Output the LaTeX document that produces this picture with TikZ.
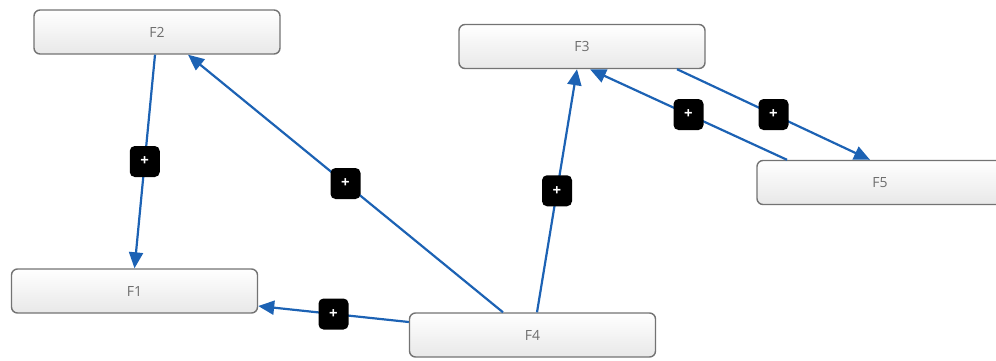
\documentclass[tikz,border=0pt]{standalone}
\usepackage{fontspec}
\setmainfont{Open Sans}
\usetikzlibrary{arrows.meta}
\definecolor{edgeblue}{RGB}{28,98,180}
\definecolor{boxborder}{RGB}{115,115,115}
\definecolor{boxtext}{RGB}{110,110,110}
\tikzset{
  fbox/.style={draw=boxborder, line width=1.4pt, rounded corners=6pt,
    top color=white, bottom color=black!9, minimum width=246pt, minimum height=44pt,
    inner sep=0pt, text=boxtext, font=\fontsize{14}{16}\selectfont},
  link/.style={draw=edgeblue, line width=2.2pt, -{Triangle[length=16pt,width=14pt]}},
  badge/.style={fill=black, rounded corners=5pt, minimum width=30pt, minimum height=31pt,
    inner sep=0pt, text=white, font=\bfseries\fontsize{15}{15}\selectfont}
}
\begin{document}
\begin{tikzpicture}[x=1pt,y=-1pt]
\useasboundingbox (0,0) rectangle (996,360);
\clip (0,0) rectangle (996,360);
\node[fbox] (F2) at (157,32) {F2};
\node[fbox] (F3) at (582,46.5) {F3};
\node[fbox] (F5) at (880,182.5) {F5};
\node[fbox] (F1) at (134.5,291) {F1};
\node[fbox] (F4) at (532.5,335) {F4};
\draw[link] ([xshift=-2pt]F2.south) -- node[badge] (b1) {+} (F1.north);
\draw[link] ([xshift=-29.5pt]F4.north) -- node[badge] (b2) {+} ([xshift=31pt]F2.south);
\draw[link] ([xshift=4.5pt]F4.north) -- node[badge] (b3) {+} ([xshift=-5pt]F3.south);
\draw[link] ([yshift=13pt]F4.west) -- node[badge] (b4) {+} ([yshift=-15pt]F1.east);
\draw[link] ([xshift=95pt]F3.south) -- node[badge] (b5) {+} ([xshift=-10pt]F5.north);
\draw[link] ([xshift=-93pt]F5.north) -- node[badge] (b6) {+} ([xshift=8pt]F3.south);
\end{tikzpicture}
\end{document}
